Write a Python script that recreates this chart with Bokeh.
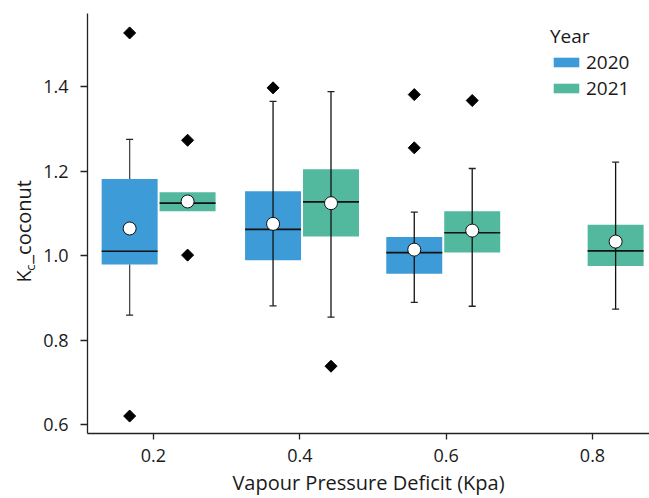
import numpy as np
from bokeh.plotting import figure
from bokeh.layouts import row
from bokeh.models import (ColumnDataSource, Range1d, FixedTicker, PrintfTickFormatter,
                          Legend, LegendItem)
from bokeh.core.properties import value
from bokeh.embed import file_html
from bokeh.resources import INLINE

nan = float("nan")

# ---------------- data ----------------
vpd_ticks = [0.2, 0.4, 0.6, 0.8]
group_x = [0.207, 0.403, 0.596, 0.792]      # centre of each VPD group
years = ["2020", "2021"]

# 2020 : groups 0.2, 0.4, 0.6
g_2020 = [0, 1, 2]
q1_2020 = [0.979, 0.989, 0.957]
q3_2020 = [1.181, 1.152, 1.044]
med_2020 = [1.010, 1.062, 1.007]
mean_2020 = [1.064, 1.075, 1.014]
lo_2020 = [0.859, 0.881, 0.889]
hi_2020 = [1.275, 1.365, 1.103]
through_2020 = [False, True, True]
out_g_2020 = [0, 0, 1, 2, 2]
out_v_2020 = [1.527, 0.620, 1.397, 1.381, 1.255]

# 2021 : groups 0.2, 0.4, 0.6, 0.8
g_2021 = [0, 1, 2, 3]
q1_2021 = [1.105, 1.045, 1.007, 0.975]
q3_2021 = [1.150, 1.204, 1.105, 1.073]
med_2021 = [1.124, 1.127, 1.054, 1.011]
mean_2021 = [1.128, 1.124, 1.059, 1.033]
lo_2021 = [nan, 0.854, 0.880, 0.873]
hi_2021 = [nan, 1.388, 1.206, 1.221]
through_2021 = [False, True, True, True]
out_g_2021 = [0, 0, 1, 2]
out_v_2021 = [1.273, 1.001, 0.738, 1.367]

colors = {"2020": "#3d9bd7", "2021": "#52b99e"}

# y-axis title pieces (K, subscript c, rest)
ylab_text = ["K", "c", "_coconut"]

# ---------------- style ----------------
FONT = "Open Sans"
TXT = "#1a1a1a"
BOX_W = 0.0765
DODGE = {"2020": -0.0396, "2021": 0.0396}
LEFT_W = 40
H = 498
TOP_B = 13
BOT_B = 62

p = figure(width=649 - LEFT_W, height=H, output_backend="svg", toolbar_location=None,
           x_range=Range1d(0.1098, 0.8779), y_range=Range1d(0.5787, 1.573),
           min_border_left=87 - LEFT_W, min_border_right=0, min_border_top=TOP_B,
           min_border_bottom=BOT_B)
p.outline_line_color = None
p.xgrid.visible = False
p.ygrid.visible = False
p.background_fill_color = "white"
p.border_fill_color = "white"

box_renderers = {}
series = {
    "2020": (g_2020, q1_2020, q3_2020, med_2020, mean_2020, lo_2020, hi_2020, through_2020,
             out_g_2020, out_v_2020),
    "2021": (g_2021, q1_2021, q3_2021, med_2021, mean_2021, lo_2021, hi_2021, through_2021,
             out_g_2021, out_v_2021),
}

# boxes first
for yr in years:
    g, q1, q3, med, mean, lo, hi, thr, og, ov = series[yr]
    xs = [group_x[i] + DODGE[yr] for i in g]
    src = ColumnDataSource(dict(left=[x - BOX_W / 2 for x in xs], right=[x + BOX_W / 2 for x in xs],
                                bottom=q1, top=q3))
    box_renderers[yr] = p.quad(left="left", right="right", bottom="bottom", top="top",
                               fill_color=colors[yr], line_color=None, source=src)

# whiskers, medians, means, outliers
for yr in years:
    g, q1, q3, med, mean, lo, hi, thr, og, ov = series[yr]
    xs = [group_x[i] + DODGE[yr] for i in g]
    sx, sy0, sy1, scol = [], [], [], []
    for x, a, b, l, h, t in zip(xs, q1, q3, lo, hi, thr):
        if np.isnan(l):
            continue
        if t:
            sx.append(x); sy0.append(l); sy1.append(h); scol.append("#111111")
        else:
            sx.append(x); sy0.append(l); sy1.append(a); scol.append("#4a4a4a")
            sx.append(x); sy0.append(b); sy1.append(h); scol.append("#4a4a4a")
    p.segment(x0=sx, y0=sy0, x1=sx, y1=sy1, line_color=scol, line_width=1.3)
    cx = [x for x, l in zip(xs, lo) if not np.isnan(l)]
    clo = [l for l in lo if not np.isnan(l)]
    chi = [h for h in hi if not np.isnan(h)]
    p.scatter(x=cx + cx, y=clo + chi, marker="dash", size=7, line_color="#222222", line_width=1.3)
    p.segment(x0=[x - BOX_W / 2 for x in xs], x1=[x + BOX_W / 2 for x in xs], y0=med, y1=med,
              line_color="#111111", line_width=1.6)
    p.scatter(x=xs, y=mean, marker="circle", size=13, fill_color="white",
              line_color="#111111", line_width=1)
    p.scatter(x=[group_x[i] + DODGE[yr] for i in og], y=ov, marker="square", angle=np.pi / 4,
              size=8.5, fill_color="black", line_color="black")

# axes
for ax in (p.xaxis[0], p.yaxis[0]):
    ax.axis_line_color = "#222222"
    ax.axis_line_width = 1.3
    ax.major_tick_line_color = "#222222"
    ax.major_tick_line_width = 1.3
    ax.major_tick_in = 0
    ax.minor_tick_line_color = None
    ax.major_label_text_font = FONT
    ax.major_label_text_font_size = "18px"
    ax.major_label_text_color = TXT
    ax.formatter = PrintfTickFormatter(format="%.1f")

p.xaxis.ticker = FixedTicker(ticks=vpd_ticks)
p.xaxis.major_tick_out = 6
p.xaxis.major_label_standoff = 9
p.xaxis.axis_label = "Vapour Pressure Deficit (Kpa)"
p.xaxis.axis_label_text_font = FONT
p.xaxis.axis_label_text_font_size = "20px"
p.xaxis.axis_label_text_font_style = "normal"
p.xaxis.axis_label_text_color = TXT
p.xaxis.axis_label_standoff = 4

p.yaxis.ticker = FixedTicker(ticks=[0.6, 0.8, 1.0, 1.2, 1.4])
p.yaxis.major_tick_out = 7
p.yaxis.major_label_standoff = 12

legend = Legend(items=[LegendItem(label=yr, renderers=[box_renderers[yr]]) for yr in years],
                title="Year", location=(463, 332))
legend.title_text_font = FONT
legend.title_text_font_size = "19px"
legend.title_text_font_style = "normal"
legend.title_text_color = TXT
legend.title_standoff = 0
legend.label_text_font = FONT
legend.label_text_font_size = "19px"
legend.label_text_color = TXT
legend.glyph_width = 32
legend.glyph_height = 12
legend.label_standoff = 4
legend.spacing = 0
legend.padding = 0
legend.margin = 0
legend.border_line_color = None
legend.background_fill_alpha = 0
p.add_layout(legend)

# narrow side figure holding the y-axis title (K with subscript c).
# Its frame is aligned with the main frame, so the y range is chosen to give page pixels.
lab = figure(width=LEFT_W, height=H, output_backend="svg", toolbar_location=None,
             x_range=Range1d(0, LEFT_W), y_range=Range1d(BOT_B, H - TOP_B),
             x_axis_location=None, y_axis_location=None,
             min_border_left=0, min_border_right=0, min_border_top=TOP_B,
             min_border_bottom=BOT_B)
lab.grid.visible = False
lab.outline_line_color = None
lab.border_fill_color = "white"
lab.background_fill_color = "white"
lab_x = [23, 29.5, 23]
lab_y = [H - 284, H - 272, H - 265]
lab_size = ["20px", "13px", "20px"]
for t, x, y, fs in zip(ylab_text, lab_x, lab_y, lab_size):
    lab.text(x=[x], y=[y], text=[t], angle=np.pi / 2, text_font=value(FONT), text_font_size=fs,
             text_color=TXT, text_align="left", text_baseline="alphabetic")

layout = row(lab, p, spacing=0)
open("out.html", "w").write(file_html(layout, INLINE))
